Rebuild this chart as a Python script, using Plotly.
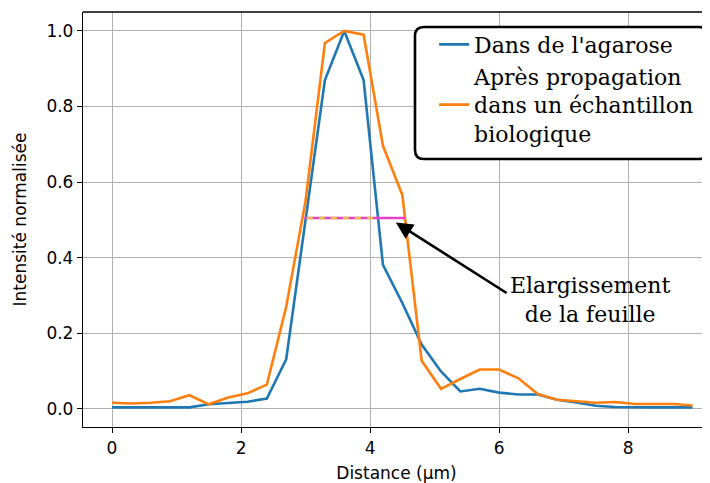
import plotly.graph_objects as go

distance = [0.0, 0.3, 0.6, 0.9, 1.2, 1.5, 1.8, 2.1, 2.4, 2.7,
            3.0, 3.3, 3.6, 3.9, 4.2, 4.5, 4.8, 5.1, 5.4, 5.7,
            6.0, 6.3, 6.6, 6.9, 7.2, 7.5, 7.8, 8.1, 8.4, 8.7, 9.0]
agarose = [0.004, 0.003, 0.004, 0.004, 0.004, 0.012, 0.015, 0.019, 0.027, 0.131,
           0.50, 0.87, 1.0, 0.87, 0.381, 0.28, 0.17, 0.099, 0.046, 0.053,
           0.043, 0.038, 0.038, 0.024, 0.017, 0.008, 0.005, 0.004, 0.004, 0.004, 0.004]
bio = [0.016, 0.014, 0.016, 0.020, 0.036, 0.012, 0.030, 0.041, 0.064, 0.27,
       0.55, 0.968, 1.0, 0.99, 0.696, 0.566, 0.127, 0.053, 0.079, 0.104,
       0.104, 0.081, 0.039, 0.024, 0.020, 0.016, 0.018, 0.013, 0.013, 0.013, 0.009]

# largeurs a mi-hauteur
half_max = 0.505
fwhm_bio_x = [2.98, 4.54]
fwhm_agarose_x = [3.02, 4.12]

# fleche + texte
arrow_head = (4.40, 0.493)
arrow_tail = (6.14, 0.304)
label_pos = (7.41, 0.288)

blue, orange = '#1f77b4', '#ff7f0e'
serif = 'DejaVu Serif'
sans = 'DejaVu Sans'

fig = go.Figure()
fig.add_trace(go.Scatter(x=distance, y=agarose, mode='lines', name="Dans de l'agarose",
                         line=dict(color=blue, width=2.6)))
fig.add_trace(go.Scatter(x=distance, y=bio, mode='lines',
                         name='Après propagation<br>dans un échantillon<br>biologique',
                         line=dict(color=orange, width=2.6)))
fig.add_trace(go.Scatter(x=fwhm_bio_x, y=[half_max] * 2, mode='lines', showlegend=False,
                         line=dict(color='#e83ec8', width=2.6)))
fig.add_trace(go.Scatter(x=fwhm_agarose_x, y=[half_max] * 2, mode='lines', showlegend=False,
                         line=dict(color='#e6c04c', width=2.6, dash='6px,6px')))

fig.add_annotation(x=arrow_head[0], y=arrow_head[1], ax=arrow_tail[0], ay=arrow_tail[1],
                   axref='x', ayref='y', text='', showarrow=True,
                   arrowhead=2, arrowsize=1.3, arrowwidth=2.6, arrowcolor='black')
fig.add_annotation(x=label_pos[0], y=label_pos[1], text='Elargissement<br>de la feuille',
                   showarrow=False, align='center',
                   font=dict(family=serif, size=22, color='black'))

# la page ajoute 8 px de marge : figure 702x475, coordonnees ecran - 8
W, H = 702, 475
L, R, T, B = 75, 702, 4, 419
def px(x): return (x - 8 - L) / (R - L)
def py(y): return (B - (y - 8)) / (B - T)
x0, x1, y0, y1, r = 415, 708, 27, 159, 9
path = (f'M{px(x0 + r)},{py(y0)} L{px(x1 - r)},{py(y0)} Q{px(x1)},{py(y0)} {px(x1)},{py(y0 + r)} '
        f'L{px(x1)},{py(y1 - r)} Q{px(x1)},{py(y1)} {px(x1 - r)},{py(y1)} '
        f'L{px(x0 + r)},{py(y1)} Q{px(x0)},{py(y1)} {px(x0)},{py(y1 - r)} '
        f'L{px(x0)},{py(y0 + r)} Q{px(x0)},{py(y0)} {px(x0 + r)},{py(y0)} Z')
fig.add_shape(type='path', path=path, xref='paper', yref='paper',
              line=dict(color='black', width=2.6), fillcolor='white', layer='above')
# axe du haut
fig.add_shape(type='line', xref='paper', yref='paper', x0=0, x1=1, y0=1, y1=1,
              line=dict(color='black', width=1.3))

axis_common = dict(showgrid=True, gridcolor='#b0b0b0', gridwidth=1.3, zeroline=False,
                   showline=True, linecolor='black', linewidth=1.3, automargin=False,
                   ticks='outside', ticklen=5, tickwidth=1.3, tickcolor='black',
                   tickfont=dict(family=sans, size=17, color='black'))
fig.update_xaxes(range=[-0.45, 9.27], tickvals=[0, 2, 4, 6, 8],
                 title=dict(text='Distance (µm)', font=dict(family=sans, size=17, color='black')),
                 **axis_common)
fig.update_yaxes(range=[-0.048, 1.05], tickvals=[0, 0.2, 0.4, 0.6, 0.8, 1.0], tickformat='.1f',
                 title=dict(text='Intensité normalisée', font=dict(family=sans, size=17, color='black')),
                 **axis_common)

fig.update_layout(width=W, height=H, margin=dict(l=L, r=W - R, t=T, b=H - B, autoexpand=False),
                  plot_bgcolor='white', paper_bgcolor='white',
                  legend=dict(x=0.56, y=0.972, xanchor='left', yanchor='top',
                              bgcolor='rgba(0,0,0,0)', borderwidth=0,
                              font=dict(family=serif, size=22, color='black'),
                              tracegroupgap=0))
fig.write_html('out.html')
